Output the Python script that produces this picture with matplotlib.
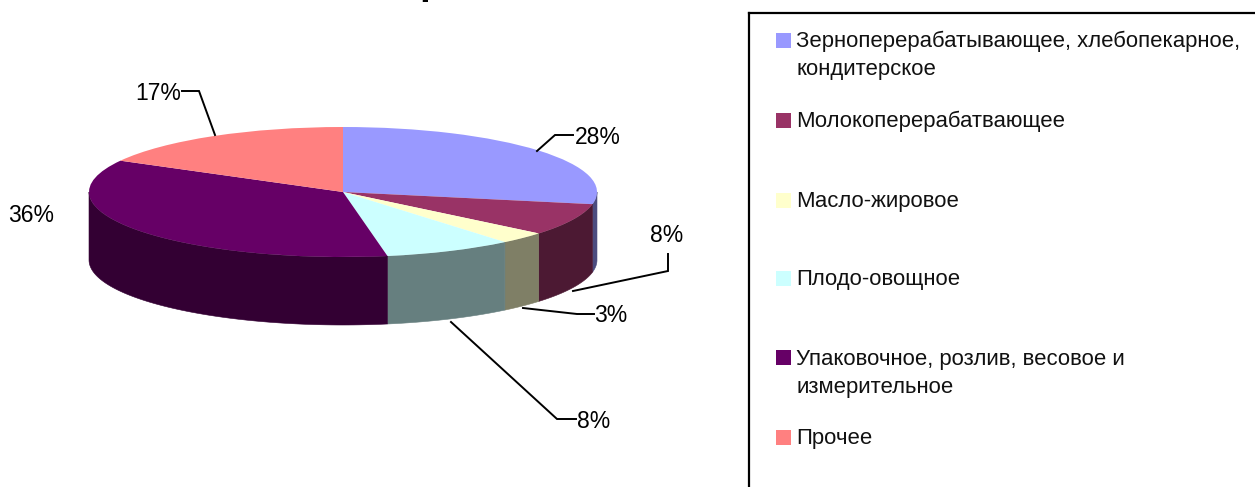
import numpy as np
import matplotlib
matplotlib.use("Agg")
import matplotlib.pyplot as plt
from matplotlib.patches import Rectangle

plt.rcParams['font.family'] = ['Liberation Sans', 'DejaVu Sans']

categories = ["Зерноперерабатывающее, хлебопекарное,\nкондитерское",
              "Молокоперерабатвающее",
              "Масло-жировое",
              "Плодо-овощное",
              "Упаковочное, розлив, весовое и\nизмерительное",
              "Прочее"]
values = [28, 8, 3, 8.2, 35.8, 17]
top_colors = ["#9999FF", "#993366", "#FFFFCC", "#CCFFFF", "#660066", "#FF8080"]
side_colors = ["#4C4C7F", "#4C1933", "#7F7F66", "#667F7F", "#330033", "#7F4040"]
value_labels = ["28%", "8%", "3%", "8%", "36%", "17%"]

W, H = 1255, 487
CX, CY, RX, RY, DEPTH = 343, 192, 254, 65, 68

fig = plt.figure(figsize=(W / 100, H / 100), dpi=100, facecolor="white")

# pie axes: one data unit = pie radius, squashed into an ellipse
ax = fig.add_axes([0, 0, 1, 1])
ax.pie(values, colors=top_colors, startangle=90, counterclock=False, radius=1,
       wedgeprops=dict(linewidth=0, zorder=5))
ax.set_aspect('auto')
ax.set_xlim((0 - CX) / RX, (W - CX) / RX)
ax.set_ylim((CY - H) / RY, CY / RY)
ax.axis('off')

# extruded rim, only the front half of the disc is visible
edges = np.cumsum([0] + values) / sum(values) * 360
drop = DEPTH / RY
for i, col in enumerate(side_colors):
    a0, a1 = max(edges[i], 90), min(edges[i + 1], 270)
    if a1 <= a0:
        continue
    phi = np.radians(np.linspace(a0, a1, 80))
    x, y = np.sin(phi), np.cos(phi)
    ax.fill(np.r_[x, x[::-1]], np.r_[y, y[::-1] - drop], color=col,
            linewidth=0.4, zorder=2)

# overlay in pixel coordinates for labels, leaders and the key
ov = fig.add_axes([0, 0, 1, 1], facecolor="none")
ov.set_xlim(0, W)
ov.set_ylim(H, 0)
ov.axis('off')

label_pos = [(597.5, 137), (667, 235), (611, 316), (594, 421), (31.5, 216), (158.5, 93)]
leaders = [[(537, 151), (555, 135), (573, 135)],
           [(573, 291), (668, 271), (668, 254)],
           [(523, 308), (577, 314), (594, 314)],
           [(451, 322), (557, 419), (576, 419)],
           None,
           [(215, 135), (199, 91), (182, 91)]]
for txt, (lx, ly), ld in zip(value_labels, label_pos, leaders):
    ov.text(lx, ly, txt, fontsize=16.5, ha='center', va='center', color='black')
    if ld:
        ov.plot(*zip(*ld), color='black', lw=1.4, solid_joinstyle='miter')

# key
ov.plot([749, 749], [H + 5, 13], color='black', lw=1.6, clip_on=False)
ov.plot([749, W + 5], [13, 13], color='black', lw=1.6, clip_on=False)
key_tops = [33, 113, 193, 271, 350, 430]
key_base = [47, 127, 207, 285, 365, 444]
for name, col, t, b in zip(categories, top_colors, key_tops, key_base):
    ov.add_patch(Rectangle((776, t), 15, 14.5, facecolor=col, edgecolor='none'))
    for k, line in enumerate(name.split("\n")):
        ov.text(796.5, b + 28 * k, line, fontsize=15.9, ha='left', va='baseline', color='#111111')

# remnant of the cropped title
ov.text(431.5, -6, "р", fontsize=28, fontweight='bold', ha='center', va='baseline', color='black')

fig.savefig("out.png", dpi=100)
